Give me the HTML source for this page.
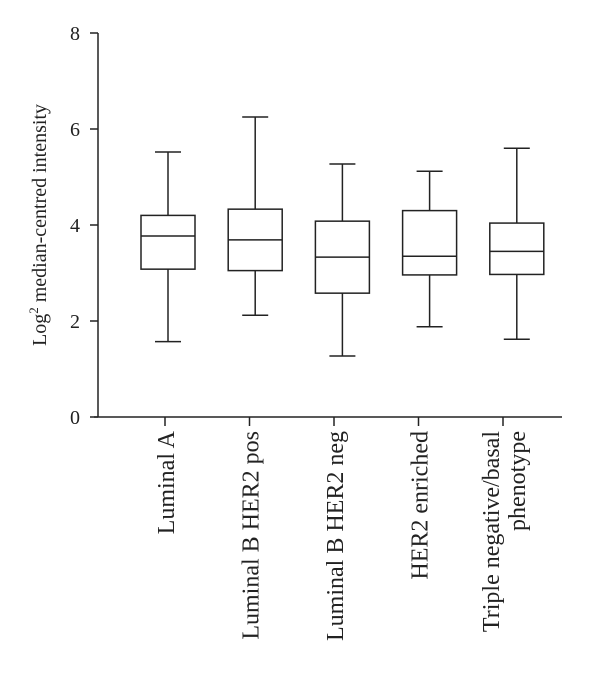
<!DOCTYPE html>
<html><head><meta charset="utf-8"><style>
html,body{margin:0;padding:0;background:#fff;}
svg text{font-family:"Liberation Serif",serif;fill:#222;}
</style></head><body>
<svg width="600" height="690" viewBox="0 0 600 690">
<g id="axes"></g><g id="boxes"></g><g id="labels"></g>
</svg>
<script>
const categories=[["Luminal A"],["Luminal B HER2 pos"],["Luminal B HER2 neg"],["HER2 enriched"],["Triple negative/basal","phenotype"]];
const mins=[1.57,2.12,1.27,1.88,1.62];
const q1s=[3.08,3.05,2.58,2.96,2.97];
const medians=[3.77,3.69,3.33,3.35,3.45];
const q3s=[4.2,4.33,4.08,4.3,4.04];
const maxs=[5.52,6.25,5.27,5.12,5.6];
const yTicks=[0,2,4,6,8];
const NS="http://www.w3.org/2000/svg";
const y=v=>417-v*48;
const x=i=>168+i*87.2;
const tickX=i=>165+i*84.5;
function mk(tag,attrs,parent){const e=document.createElementNS(NS,tag);for(const k in attrs)e.setAttribute(k,attrs[k]);parent.appendChild(e);return e;}
const gA=document.getElementById('axes'),gB=document.getElementById('boxes'),gL=document.getElementById('labels');
const ax=mk('line',{x1:98,y1:y(8),x2:98,y2:y(0),stroke:'#222','stroke-width':1.5},gA);


const xax=mk('line',{x1:94,y1:y(0),x2:562,y2:y(0),stroke:'#222','stroke-width':1.5},gA);


yTicks.forEach(t=>{
 const l=mk('line',{x1:90,x2:98,y1:y(t),y2:y(t),stroke:'#222','stroke-width':1.5},gA);
 
 
 const tx=mk('text',{x:80,y:y(t)+7,'text-anchor':'end','font-size':20},gA);
 tx.textContent=t;
 
 
});
const yt=mk('text',{transform:'translate(46,225) rotate(-90)','text-anchor':'middle','font-size':20},gA);
yt.innerHTML='Log<tspan dy="-8" font-size="13">2</tspan><tspan dy="8"> median-centred intensity</tspan>';


categories.forEach((c,i)=>{
 const cx=x(i),g=mk('g',{},gB);
 
 
 const s={stroke:'#222','stroke-width':1.5,fill:'none'};
 mk('line',Object.assign({x1:cx,x2:cx,y1:y(maxs[i]),y2:y(q3s[i])},s),g);
 mk('line',Object.assign({x1:cx,x2:cx,y1:y(q1s[i]),y2:y(mins[i])},s),g);
 mk('line',Object.assign({x1:cx-13,x2:cx+13,y1:y(maxs[i]),y2:y(maxs[i])},s),g);
 mk('line',Object.assign({x1:cx-13,x2:cx+13,y1:y(mins[i]),y2:y(mins[i])},s),g);
 mk('rect',Object.assign({x:cx-27,width:54,y:y(q3s[i]),height:y(q1s[i])-y(q3s[i])},s),g);
 mk('line',Object.assign({x1:cx-27,x2:cx+27,y1:y(medians[i]),y2:y(medians[i])},s),g);
 const tk=mk('line',{x1:tickX(i),x2:tickX(i),y1:y(0),y2:y(0)+9,stroke:'#222','stroke-width':1.5},gA);
 
 
 c.forEach((line,j)=>{
  const off=(j-(c.length-1)/2)*26;
  const t=mk('text',{transform:`translate(${tickX(i)+off+9},431) rotate(-90)`,'text-anchor':'end','font-size':24},gL);
  t.textContent=line;
  
  
 });
});
</script>
</body></html>
